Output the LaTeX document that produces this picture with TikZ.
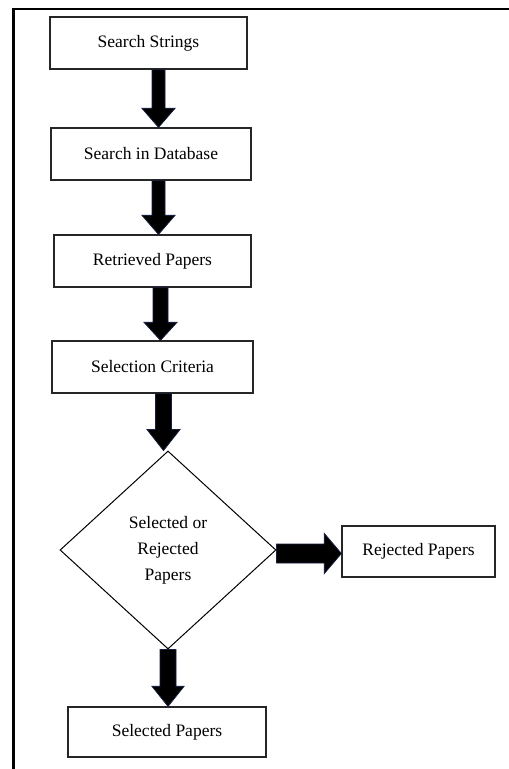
\documentclass[tikz,border=0pt]{standalone}
\usepackage{fontspec}
\setmainfont{Liberation Serif}
\usetikzlibrary{shapes.geometric,calc}
\definecolor{arrowline}{RGB}{22,32,62}
\tikzset{
  box/.style={draw=black!85, line width=1.3pt, rectangle, inner sep=0pt,
    font=\fontsize{17.5}{26}\selectfont},
  decision/.style={draw=black, line width=1pt, diamond, inner sep=0pt,
    minimum width=216pt, minimum height=198pt, align=center,
    font=\fontsize{17.5}{26}\selectfont},
  blockarrow/.style={fill=black, draw=arrowline, line width=0.8pt, line join=miter},
  frame/.style={draw=black, line width=2.2pt}
}
% vertical block arrow: #1 source, #2 target, #3 x, #4 shaft half width, #5 head half width, #6 head length
\newcommand{\vblockarrow}[6]{%
  \filldraw[blockarrow] let \p1=(#1.south), \p2=(#2.north) in
    (#3pt-#4pt,\y1) -- (#3pt+#4pt,\y1) -- (#3pt+#4pt,\y2+#6pt) --
    (#3pt+#5pt,\y2+#6pt) -- (#3pt,\y2) -- (#3pt-#5pt,\y2+#6pt) --
    (#3pt-#4pt,\y2+#6pt) -- cycle;}
% horizontal block arrow: #1 source, #2 target, #3 y (canvas), #4 shaft half, #5 head half, #6 head length
\newcommand{\hblockarrow}[6]{%
  \filldraw[blockarrow] let \p1=(#1.east), \p2=(#2.west) in
    (\x1,#3pt+#4pt) -- (\x1,#3pt-#4pt) -- (\x2-#6pt,#3pt-#4pt) --
    (\x2-#6pt,#3pt-#5pt) -- (\x2,#3pt) -- (\x2-#6pt,#3pt+#5pt) --
    (\x2-#6pt,#3pt+#4pt) -- cycle;}
\begin{document}
\begin{tikzpicture}[x=1pt,y=-1pt]
  \useasboundingbox (0,0) rectangle (509,769);
  \fill[white] (0,0) rectangle (509,769);
  \draw[frame] (13.5,769) -- (13.5,9) -- (509,9);

  \node[box, minimum width=197pt, minimum height=52pt] (s1) at (148.5,43) {Search Strings};
  \node[box, minimum width=200pt, minimum height=52pt] (s2) at (151,154) {Search in Database};
  \node[box, minimum width=197pt, minimum height=52pt] (s3) at (152.5,261) {Retrieved Papers};
  \node[box, minimum width=201pt, minimum height=52pt] (s4) at (152.5,367) {Selection Criteria};
  \node[decision] (d) at (168,550) {Selected or\\Rejected\\Papers};
  \node[box, minimum width=153pt, minimum height=51pt] (rej) at (418.5,551.5) {Rejected Papers};
  \node[box, minimum width=198pt, minimum height=50pt] (sel) at (167,732) {Selected Papers};

  \vblockarrow{s1}{s2}{158.5}{6.5}{16.5}{19}
  \vblockarrow{s2}{s3}{158.5}{6.5}{16.5}{19}
  \vblockarrow{s3}{s4}{160.5}{7.5}{16.5}{18}
  \vblockarrow{s4}{d}{163.5}{8}{16.5}{21}
  \vblockarrow{d}{sel}{168}{8}{16}{20}
  \hblockarrow{d}{rej}{-553.5}{9.5}{20}{17}
\end{tikzpicture}
\end{document}
